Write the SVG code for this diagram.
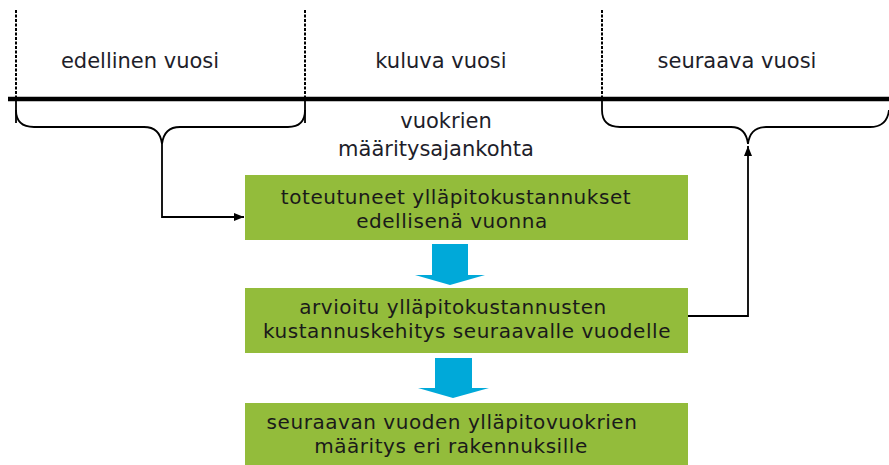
<svg xmlns="http://www.w3.org/2000/svg" width="889" height="465" viewBox="0 0 889 465">
<defs>
<style>
.lbl{font-family:"DejaVu Sans","Open Sans",sans-serif;font-size:21px;fill:#1e1e2a;text-anchor:middle}
.sub{font-family:"DejaVu Sans","Open Sans",sans-serif;font-size:21px;fill:#1e1e2a;text-anchor:middle}
.btxt{font-family:"DejaVu Sans","Open Sans",sans-serif;font-size:20px;letter-spacing:0.55px;fill:#1a1a1a;text-anchor:middle}
.box{fill:#93bc3b}
.dash{stroke:#000;stroke-width:2;stroke-dasharray:3 1.5;fill:none}
.ln{stroke:#000;stroke-width:1.8;fill:none}
.blue{fill:#00a9d9}
</style>
<marker id="ah" viewBox="0 0 10 10" refX="10" refY="5" markerWidth="10" markerHeight="10" markerUnits="userSpaceOnUse" orient="auto">
<path d="M0,1 L10,5 L0,9 Z" fill="#000"/>
</marker>
</defs>
<rect width="889" height="465" fill="#fff"/>
<g id="timeline">
<line class="dash" x1="16" y1="10" x2="16" y2="99"/>
<line class="dash" x1="305" y1="10" x2="305" y2="99"/>
<line class="dash" x1="602" y1="10" x2="602" y2="99"/>
<line x1="8" y1="99" x2="889" y2="99" stroke="#000" stroke-width="4.5"/>
<text class="lbl" x="140" y="68">edellinen vuosi</text>
<text class="lbl" x="441" y="68">kuluva vuosi</text>
<text class="lbl" x="737" y="68">seuraava vuosi</text>
<text class="sub" x="446" y="128">vuokrien</text>
<text class="sub" x="436" y="156">määritysajankohta</text>
</g>
<g id="brace-left">
<path class="ln" d="M16,99 L16,123"/>
<path class="ln" d="M305,99 L305,123"/>
<path class="ln" d="M16,110 Q16,127 34,127 L144,127 Q160,127 162,144 Q164,127 180,127 L288,127 Q305,127 305,110"/>
</g>
<g id="brace-right">
<path class="ln" d="M602,99 L602,110 Q602,127 620,127 L731,127 Q746,127 748,144 Q750,127 766,127 L870,127 Q887,127 889,110"/>
</g>
<g id="box1">
<rect class="box" x="245" y="175" width="443" height="65"/>
<text class="btxt" x="456" y="204">toteutuneet ylläpitokustannukset</text>
<text class="btxt" x="452" y="228">edellisenä vuonna</text>
</g>
<g id="box2">
<rect class="box" x="245" y="288" width="443" height="65"/>
<text class="btxt" x="453" y="314">arvioitu ylläpitokustannusten</text>
<text class="btxt" x="467" y="338">kustannuskehitys seuraavalle vuodelle</text>
</g>
<g id="box3">
<rect class="box" x="245" y="403" width="443" height="65"/>
<text class="btxt" x="452" y="429">seuraavan vuoden ylläpitovuokrien</text>
<text class="btxt" x="451" y="453">määritys eri rakennuksille</text>
</g>
<g id="connectors">
<path class="ln" d="M162,144 L162,217 L244,217" marker-end="url(#ah)"/>
<path class="ln" d="M688,316 L748,316 L748,146" marker-end="url(#ah)"/>
<path class="blue" d="M432,244 L468,244 L468,275 L485,275 L450,285 L415,275 L432,275 Z"/>
<path class="blue" d="M435,358 L472,358 L472,388 L489,388 L453,398 L418,388 L435,388 Z"/>
</g>
</svg>
